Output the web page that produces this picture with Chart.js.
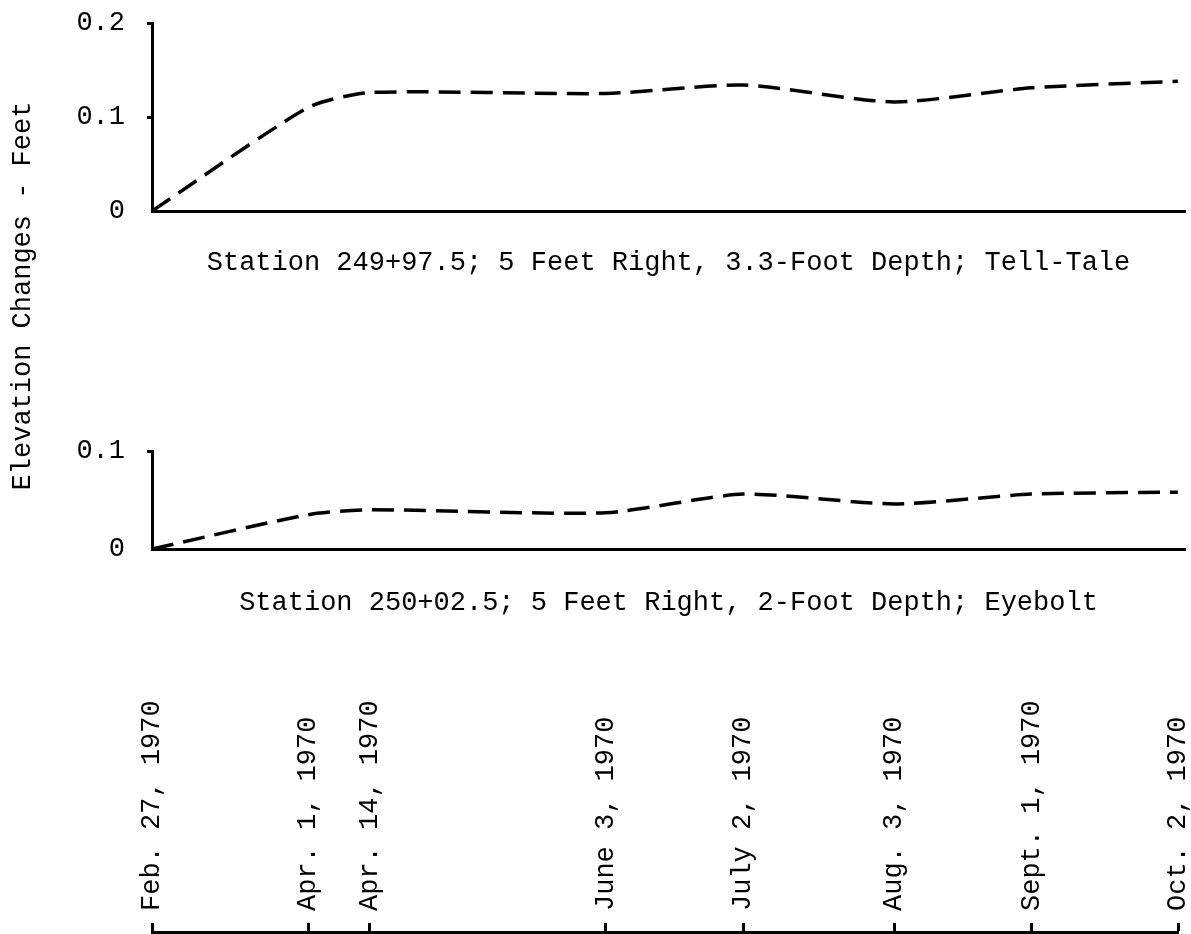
<!DOCTYPE html>
<html>
<head>
<meta charset="utf-8">
<title>Elevation Changes</title>
<script src="https://cdn.jsdelivr.net/npm/chart.js@4.4.1/dist/chart.umd.min.js"></script>
<style>
  html, body { margin: 0; padding: 0; background: #fff; }
  body { width: 1191px; height: 934px; position: relative; overflow: hidden; }
  canvas { position: absolute; left: 0; }
</style>
</head>
<body>
<canvas id="frame" width="1191" height="934" style="top:0"></canvas>
<canvas id="upper" width="1191" height="300" style="top:0"></canvas>
<canvas id="lower" width="1191" height="240" style="top:400px"></canvas>
<canvas id="dates" width="1191" height="294" style="top:640px"></canvas>
<script>
// Survey dates and their offsets in days from Feb. 27, 1970
const dateLabels = ['Feb. 27, 1970', 'Apr. 1, 1970', 'Apr. 14, 1970', 'June 3, 1970',
                    'July 2, 1970', 'Aug. 3, 1970', 'Sept. 1, 1970', 'Oct. 2, 1970'];
const dayOffsets = [0, 33, 46, 96, 125, 157, 186, 217];

// Elevation change, feet
const tellTale = [0, 0.110, 0.126, 0.125, 0.134, 0.116, 0.131, 0.138];
const eyebolt  = [0, 0.035, 0.040, 0.037, 0.056, 0.046, 0.056, 0.058];

// Axis ticks, feet
const upperTicks = [0, 0.1, 0.2];
const lowerTicks = [0, 0.1];

const upperTitle = 'Station 249+97.5; 5 Feet Right, 3.3-Foot Depth; Tell-Tale';
const lowerTitle = 'Station 250+02.5; 5 Feet Right, 2-Foot Depth; Eyebolt';
const yTitle = 'Elevation Changes - Feet';

Chart.defaults.font.family = "'Liberation Mono', 'DejaVu Sans Mono', monospace";
Chart.defaults.font.size = 27;
Chart.defaults.color = '#000';

const INK = '#000';
const quiet = { legend: { display: false }, tooltip: { enabled: false } };

// Shared vertical axis title spanning both panels
new Chart(document.getElementById('frame'), {
  type: 'line',
  data: { datasets: [] },
  options: {
    responsive: false, animation: false, events: [],
    layout: { padding: { left: 7, right: 0, top: 100, bottom: 442 } },
    plugins: quiet,
    scales: {
      x: { display: false },
      y: {
        display: true,
        ticks: { display: false },
        grid: { display: false, drawTicks: false },
        border: { display: false },
        title: { display: true, text: yTitle, color: INK, padding: 0 }
      }
    }
  }
});

function stationChart(id, values, ticks, title, pad) {
  return new Chart(document.getElementById(id), {
    type: 'line',
    data: {
      datasets: [{
        data: dayOffsets.map((d, i) => ({ x: d, y: values[i] })),
        borderColor: INK,
        borderWidth: 3.5,
        borderDash: [22, 10],
        pointRadius: 0,
        tension: 0.22,
        fill: false
      }]
    },
    options: {
      responsive: false, animation: false, events: [],
      layout: { padding: { left: 0, right: 6, top: pad.top, bottom: pad.bottom } },
      plugins: {
        ...quiet,
        title: {
          display: true, text: title, position: 'bottom', fullSize: false,
          color: INK, font: { size: 27, weight: 'normal' },
          padding: { top: pad.title, bottom: 0 }
        }
      },
      scales: {
        x: {
          type: 'linear', min: 0, max: 218.5,
          ticks: { display: false },
          grid: { display: true, drawOnChartArea: false, drawTicks: false },
          border: { display: true, color: INK, width: 3 },
          afterFit: s => { s.height = 2; }
        },
        y: {
          type: 'linear', min: 0, max: ticks[ticks.length - 1],
          afterBuildTicks: s => { s.ticks = ticks.map(v => ({ value: v })); },
          afterFit: s => { s.width = 152; s.paddingTop = 0; s.paddingBottom = 0; },
          ticks: { color: INK, padding: 22, callback: v => (v === 0 ? '0' : v.toFixed(1)) },
          grid: {
            drawOnChartArea: false, drawTicks: true, tickLength: 5, tickWidth: 3,
            tickColor: c => (c.tick && c.tick.value === 0 ? 'rgba(0,0,0,0)' : INK)
          },
          border: { display: true, color: INK, width: 3 }
        }
      }
    }
  });
}

stationChart('upper', tellTale, upperTicks, upperTitle, { top: 23, bottom: 20.6, title: 34 });
stationChart('lower', eyebolt, lowerTicks, lowerTitle, { top: 51, bottom: 20.8, title: 35.8 });

// Shared date axis along the foot of the figure
new Chart(document.getElementById('dates'), {
  type: 'line',
  data: { datasets: [] },
  options: {
    responsive: false, animation: false, events: [],
    layout: { padding: { left: 152, right: 13, top: 0, bottom: 0 } },
    plugins: quiet,
    scales: {
      x: {
        type: 'linear', position: 'top', min: 0, max: 217,
        afterBuildTicks: s => { s.ticks = dayOffsets.map(v => ({ value: v })); },
        afterFit: s => { s.height = 292; },
        ticks: {
          autoSkip: false, minRotation: 90, maxRotation: 90, padding: 12, color: INK,
          labelOffset: 32.4,
          callback: (v, i) => dateLabels[i]
        },
        grid: { drawOnChartArea: false, drawTicks: true, tickLength: 9, tickWidth: 3, tickColor: INK },
        border: { display: true, color: INK, width: 3 }
      },
      y: { display: false }
    }
  }
});
</script>
</body>
</html>
